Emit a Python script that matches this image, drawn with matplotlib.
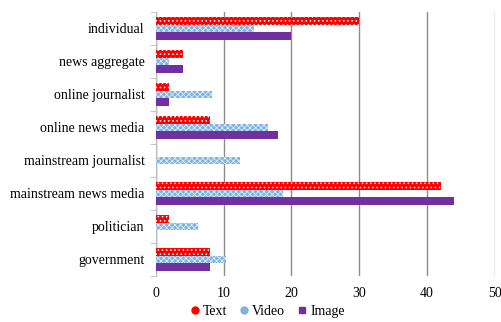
import numpy as np
import matplotlib
matplotlib.use("Agg")
import matplotlib.pyplot as plt
from matplotlib.lines import Line2D

categories = ["individual", "news aggregate", "online journalist",
              "online news media", "mainstream journalist",
              "mainstream news media", "politician", "government"]
text_vals = [30, 4, 2, 8, 0, 42, 2, 8]
video_vals = [14.5, 2, 8.3, 16.6, 12.4, 18.7, 6.2, 10.4]
image_vals = [20, 4, 2, 18, 0, 44, 0, 8]
xticks = [0, 10, 20, 30, 40, 50]

plt.rcParams['font.family'] = ['Liberation Serif', 'DejaVu Serif']
plt.rcParams['hatch.linewidth'] = 0.6

fig = plt.figure(figsize=(5.01, 3.22), dpi=100)
ax = fig.add_axes([0.311, 0.143, 0.677, 0.82])

y = np.arange(len(categories))[::-1].astype(float)
h = 0.23
ax.barh(y + h, text_vals, height=h, color='#FF0000', edgecolor='white',
        linewidth=0, hatch='....', zorder=3)
ax.barh(y, video_vals, height=h, color='#7DB3E3', edgecolor='#DDEBF7',
        linewidth=0, hatch='xxxxxx', zorder=3)
ax.barh(y - h, image_vals, height=h, color='#7030A0', linewidth=0, zorder=3)

ax.set_xlim(0, 50)
ax.set_ylim(-0.5, len(categories) - 0.5)
ax.set_xticks(xticks)
ax.set_yticks(y)
ax.set_yticklabels(categories, fontsize=10)
ax.set_yticks(np.arange(len(categories) + 1) - 0.5, minor=True)
ax.tick_params(axis='y', which='major', length=0, pad=8)
ax.tick_params(axis='y', which='minor', length=4, color='#BBBBBB')
ax.tick_params(axis='x', length=0, labelsize=10, pad=8)
ax.grid(axis='x', color='#8C8C8C', linewidth=1, zorder=0)
for s in ['top', 'right', 'bottom']:
    ax.spines[s].set_visible(False)
ax.spines['left'].set_color('#BBBBBB')

handles = [
    Line2D([], [], marker='o', color='#FF0000', linestyle='', markersize=5),
    Line2D([], [], marker='o', color='#7DB3E3', linestyle='', markersize=5),
    Line2D([], [], marker='s', color='#7030A0', linestyle='', markersize=5),
]
fig.legend(handles, ["Text", "Video", "Image"], loc='lower center',
           bbox_to_anchor=(0.53, -0.025), ncol=3, frameon=False, fontsize=10,
           handletextpad=0.0, columnspacing=0.6, handlelength=1.2)

fig.savefig("out.png", dpi=100)
